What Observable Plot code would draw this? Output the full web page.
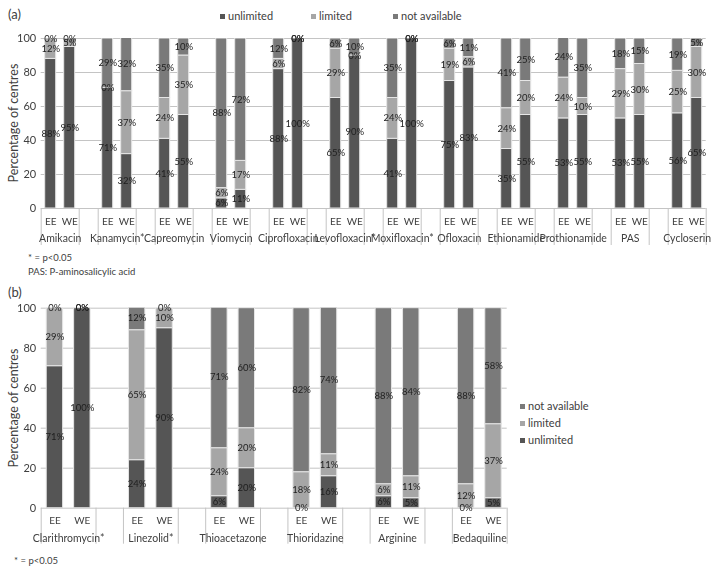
<!DOCTYPE html>
<html><head><meta charset="utf-8">
<script src="https://cdn.jsdelivr.net/npm/d3@7"></script>
<script src="https://cdn.jsdelivr.net/npm/@observablehq/plot@0.6"></script>
<style>
body{margin:0;background:#fff;font-family:Lato,"Liberation Sans",sans-serif;}
#root{position:relative;width:714px;height:574px;overflow:hidden;background:#fff;}
.abs{position:absolute;white-space:nowrap;color:#404040;line-height:1;}
.sw{display:inline-block;width:5px;height:5px;margin-right:3px;vertical-align:middle;position:relative;top:-1px;}
svg{position:absolute;left:0;overflow:visible;filter:grayscale(100%);}
</style></head><body><div id="root"></div>
<script>
// ---------- data ----------
const statuses = ["unlimited", "limited", "not available"];
const statusColors = ["#555555", "#a6a6a6", "#7a7a7a"];
const regions = ["EE", "WE"];

// Panel (a)
const drugsA = ["Amikacin","Kanamycin*","Capreomycin","Viomycin","Ciprofloxacin","Levofloxacin*","Moxifloxacin*","Ofloxacin","Ethionamide","Prothionamide","PAS","Cycloserin"];
const unlimitedA_EE = [88,71,41,6,82,65,41,75,35,53,53,56];
const limitedA_EE   = [12,0,24,6,6,29,24,19,24,24,29,25];
const notAvailA_EE  = [0,29,35,88,12,6,35,6,41,24,18,19];
const unlimitedA_WE = [95,32,55,11,100,90,100,83,55,55,55,65];
const limitedA_WE   = [5,37,35,17,0,0,0,6,20,10,30,30];
const notAvailA_WE  = [0,32,10,72,0,10,0,11,25,35,15,5];
const labelOverridesA = {"Ciprofloxacin|EE|unlimited": "88%"};

// Panel (b)
const drugsB = ["Clarithromycin*","Linezolid*","Thioacetazone","Thioridazine","Arginine","Bedaquiline"];
const unlimitedB_EE = [71,24,6,0,6,0];
const limitedB_EE   = [29,65,24,18,6,12];
const notAvailB_EE  = [0,12,71,82,88,88];
const unlimitedB_WE = [100,90,20,16,5,5];
const limitedB_WE   = [0,10,20,11,11,37];
const notAvailB_WE  = [0,0,60,74,84,58];

const yTicks = [0,20,40,60,80,100];

function buildRows(drugs, ee, we, overrides) {
  const rows = [];
  drugs.forEach((d, g) => {
    [ee, we].forEach((vals, k) => {
      const idx = g * 3 + k;
      let base = 0;
      statuses.forEach((s, si) => {
        const v = vals[si][g];
        const key = d.replace("*","") + "|" + regions[k] + "|" + s;
        rows.push({drug: d, region: regions[k], idx, status: s, value: v, y1: base, y2: base + v,
                   label: (overrides && overrides[key]) || (v + "%")});
        base += v;
      });
    });
  });
  return rows;
}

function panel({drugs, rows, marginTop, plotH, marginBottom, marginLeft, marginRight, inset, sepLen, fs}) {
  const n = drugs.length * 3 - 1;
  const bounds = [], centers = [], groups = [];
  drugs.forEach((d, g) => { bounds.push(g*3, g*3+2); centers.push(g*3+0.5, g*3+1.5); groups.push(g*3+1); });
  return Plot.plot({
    width: 714,
    height: marginTop + plotH + marginBottom,
    marginTop, marginBottom, marginLeft, marginRight,
    style: {fontFamily: "Lato, 'Liberation Sans', sans-serif", fontSize: "10px", color: "#404040", background: "transparent"},
    x: {type: "linear", domain: [0, n], label: null},
    y: {domain: [0, 100], label: null},
    color: {domain: statuses, range: statusColors},
    marks: [
      Plot.gridY(yTicks, {stroke: "#c4c4c4", strokeOpacity: 1}),
      Plot.rect(rows, {x1: d => d.idx, x2: d => d.idx + 1, y1: "y1", y2: "y2", fill: "status",
        insetLeft: inset, insetRight: inset, stroke: "#e6e6e6", strokeWidth: 1, clip: true}),
      Plot.text(rows, {x: d => d.idx + 0.5, y: d => (d.y1 + d.y2) / 2, text: "label",
        fill: "#1e1e1e", fontSize: fs}),
      Plot.axisY(yTicks, {tickSize: 0, tickPadding: 5, label: null, fontSize: 11}),
      Plot.axisX(bounds, {tickSize: sepLen, tickFormat: () => "", stroke: "#c4c4c4", label: null}),
      Plot.axisX(centers, {tickSize: 0, tickPadding: 9, tickFormat: i => regions[Math.round(i - 0.5) % 3], label: null, fontSize: 10}),
      Plot.axisX(groups, {tickSize: 0, tickPadding: 26, tickFormat: i => drugs[Math.round((i - 1) / 3)], label: null, fontSize: 10.5})
    ]
  });
}

const root = document.getElementById("root");
function addText(txt, x, y, size, extra) {
  const el = document.createElement("div");
  el.className = "abs";
  el.textContent = txt;
  el.style.left = x + "px"; el.style.top = y + "px"; el.style.fontSize = size + "px";
  if (extra) Object.assign(el.style, extra);
  root.appendChild(el);
  return el;
}
function addLegendItem(label, color, x, y) {
  const el = document.createElement("div");
  el.className = "abs";
  el.style.left = x + "px"; el.style.top = y + "px"; el.style.fontSize = "11px";
  const sw = document.createElement("span"); sw.className = "sw"; sw.style.background = color;
  el.appendChild(sw); el.appendChild(document.createTextNode(label));
  root.appendChild(el);
}

// Panel (a)
const rowsA = buildRows(drugsA, [unlimitedA_EE, limitedA_EE, notAvailA_EE], [unlimitedA_WE, limitedA_WE, notAvailA_WE], labelOverridesA);
const svgA = panel({drugs: drugsA, rows: rowsA, marginTop: 18, plotH: 170, marginBottom: 45, marginLeft: 40.7, marginRight: 8.3, inset: 4, sepLen: 37, fs: 9.5});
svgA.style.top = "20px";
root.appendChild(svgA);

// Panel (b)
const rowsB = buildRows(drugsB, [unlimitedB_EE, limitedB_EE, notAvailB_EE], [unlimitedB_WE, limitedB_WE, notAvailB_WE]);
const svgB = panel({drugs: drugsB, rows: rowsB, marginTop: 17.7, plotH: 200, marginBottom: 45, marginLeft: 40.7, marginRight: 207.3, inset: 5.5, sepLen: 36, fs: 9.5});
svgB.style.top = "290px";
root.appendChild(svgB);

// Titles, legends, notes
addText("(a)", 8, 8, 13);
addText("(b)", 8, 286, 13);
addLegendItem(statuses[0], statusColors[0], 220, 10);
addLegendItem(statuses[1], statusColors[1], 311, 10);
addLegendItem(statuses[2], statusColors[2], 393, 10);
addLegendItem(statuses[2], statusColors[2], 520, 400);
addLegendItem(statuses[1], statusColors[1], 520, 417);
addLegendItem(statuses[0], statusColors[0], 520, 434);

addText("Percentage of centres", 14, 123, 12.5, {transform: "translate(-50%,-50%) rotate(-90deg)"});
addText("Percentage of centres", 14, 408, 12.5, {transform: "translate(-50%,-50%) rotate(-90deg)"});
addText("* = p<0.05", 28, 253, 9.5);
addText("PAS: P-aminosalicylic acid", 28, 267, 9.5);
addText("* = p<0.05", 14, 556, 9.5);
</script></body></html>
